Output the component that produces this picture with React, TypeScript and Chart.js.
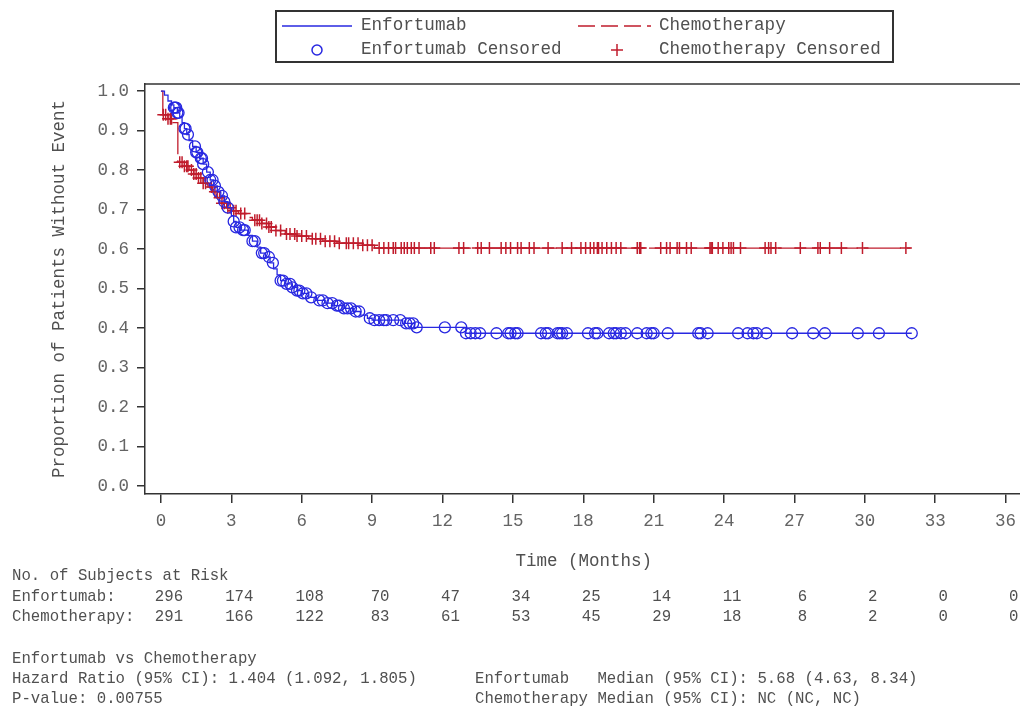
import React, { useEffect, useRef, useState } from "react";
import { Chart, registerables } from "chart.js";

Chart.register(...registerables);

// ---------- data ----------
const xTicks = [0, 3, 6, 9, 12, 15, 18, 21, 24, 27, 30, 33, 36];
const yTicks = [0, 0.1, 0.2, 0.3, 0.4, 0.5, 0.6, 0.7, 0.8, 0.9, 1.0];

const enfRisk = [296, 174, 108, 70, 47, 34, 25, 14, 11, 6, 2, 0, 0];
const chemoRisk = [291, 166, 122, 83, 61, 53, 45, 29, 18, 8, 2, 0, 0];

// Kaplan-Meier step points (time in months, survival after the event)
const enfStepTimes = [0, 0.15, 0.3, 0.45, 0.55, 0.7, 0.8, 0.9, 1.0, 1.1, 1.2, 1.35, 1.5, 1.65, 1.8, 1.95, 2.1, 2.25, 2.4, 2.55, 2.7, 2.85, 3.0, 3.1, 3.2, 3.4, 3.7, 3.9, 4.1, 4.25, 4.45, 4.65, 4.8, 4.95, 5.1, 5.3, 5.6, 5.8, 6.0, 6.3, 6.6, 7.0, 7.4, 7.8, 8.2, 8.5, 8.8, 9.0, 10.3, 10.8, 13.0, 32.0];
const enfStepSurv = [1.0, 0.99, 0.975, 0.965, 0.958, 0.945, 0.935, 0.92, 0.905, 0.89, 0.875, 0.86, 0.845, 0.83, 0.815, 0.795, 0.775, 0.76, 0.745, 0.735, 0.72, 0.705, 0.685, 0.67, 0.655, 0.648, 0.635, 0.62, 0.605, 0.59, 0.58, 0.565, 0.55, 0.535, 0.52, 0.512, 0.503, 0.495, 0.488, 0.478, 0.47, 0.463, 0.457, 0.45, 0.442, 0.433, 0.425, 0.42, 0.412, 0.402, 0.387, 0.387];

const chemoStepTimes = [0, 0.08, 0.3, 0.5, 0.72, 1.0, 1.2, 1.4, 1.6, 1.8, 2.0, 2.2, 2.4, 2.6, 2.8, 3.0, 3.3, 3.7, 3.9, 4.3, 4.6, 4.9, 5.3, 5.8, 6.3, 6.9, 7.5, 8.6, 9.1, 31.95];
const chemoStepSurv = [1.0, 0.94, 0.93, 0.92, 0.82, 0.81, 0.8, 0.79, 0.78, 0.767, 0.757, 0.745, 0.73, 0.716, 0.705, 0.697, 0.69, 0.68, 0.673, 0.665, 0.656, 0.647, 0.638, 0.633, 0.626, 0.62, 0.615, 0.61, 0.6025, 0.6025];

// censoring times (months)
const enfCensorTimes = [0.55, 0.6, 0.65, 0.7, 0.75, 1.0, 1.05, 1.15, 1.45, 1.5, 1.55, 1.7, 1.75, 1.8, 2.0, 2.1, 2.2, 2.3, 2.45, 2.6, 2.7, 2.85, 3.1, 3.2, 3.35, 3.5, 3.57, 3.9, 4.0, 4.3, 4.4, 4.6, 4.77, 5.1, 5.2, 5.35, 5.5, 5.6, 5.8, 5.9, 6.05, 6.2, 6.4, 6.75, 6.9, 7.1, 7.3, 7.5, 7.6, 7.8, 7.95, 8.1, 8.3, 8.45, 8.9, 9.1, 9.3, 9.5, 9.6, 9.9, 10.2, 10.45, 10.6, 10.75, 10.9, 12.1, 12.8, 13.0, 13.2, 13.4, 13.6, 14.3, 14.8, 14.9, 15.1, 15.2, 16.2, 16.4, 16.5, 16.9, 17.0, 17.1, 17.3, 18.2, 18.5, 18.6, 19.1, 19.3, 19.4, 19.6, 19.8, 20.3, 20.7, 20.9, 21.0, 21.6, 22.9, 23.0, 23.3, 24.6, 25.0, 25.25, 25.4, 25.8, 26.9, 27.8, 28.3, 29.7, 30.6, 32.0];
const chemoCensorTimes = [0.1, 0.2, 0.3, 0.4, 0.45, 0.8, 0.9, 1.0, 1.1, 1.15, 1.3, 1.4, 1.5, 1.6, 1.7, 1.8, 1.9, 2.15, 2.3, 2.5, 2.6, 2.7, 2.85, 2.95, 3.1, 3.2, 3.4, 3.57, 4.0, 4.1, 4.2, 4.3, 4.5, 4.6, 4.7, 4.9, 5.1, 5.35, 5.5, 5.7, 5.8, 6.0, 6.2, 6.45, 6.6, 6.8, 7.0, 7.2, 7.4, 7.6, 7.9, 8.0, 8.2, 8.4, 8.6, 8.8, 9.0, 9.3, 9.5, 9.7, 9.9, 10.0, 10.24, 10.37, 10.5, 10.67, 10.8, 11.0, 11.5, 11.65, 12.7, 12.9, 13.5, 13.65, 14.0, 14.5, 14.7, 14.9, 15.2, 15.35, 15.7, 15.9, 16.5, 17.1, 17.5, 17.9, 18.1, 18.3, 18.45, 18.6, 18.65, 18.8, 19.0, 19.2, 19.4, 19.6, 20.3, 20.4, 20.45, 21.3, 21.55, 21.7, 22.0, 22.1, 22.4, 22.6, 23.4, 23.45, 23.5, 23.75, 23.95, 24.2, 24.3, 24.4, 24.7, 25.75, 25.9, 26.0, 26.2, 27.25, 28.0, 28.1, 28.5, 29.0, 29.9, 31.75];

// ---------- styling ----------
const MONO = '"Liberation Mono", "DejaVu Sans Mono", monospace';
const BLUE = "rgb(40,40,225)";
const RED = "rgb(192,28,44)";
const AXIS = "#333";
const TXT = "#505050";
const TICK_TXT = "#646464";

function survAt(times: number[], surv: number[], t: number) {
  let s = surv[0];
  for (let i = 0; i < times.length; i++) {
    if (times[i] <= t) s = surv[i];
    else break;
  }
  return s;
}

const framePlugin = {
  id: "frame",
  afterDraw(chart: any) {
    const { ctx, chartArea } = chart;
    ctx.save();
    ctx.strokeStyle = AXIS;
    ctx.lineWidth = 1.5;
    ctx.beginPath();
    ctx.moveTo(chartArea.left, chartArea.top);
    ctx.lineTo(chartArea.right, chartArea.top);
    ctx.lineTo(chartArea.right, chartArea.bottom);
    ctx.stroke();
    ctx.restore();
  },
};

function T(props: { x: number; y: number; size: number; color?: string; center?: boolean; children: any }) {
  const { x, y, size, color, center, children } = props;
  return (
    <div
      style={{
        position: "absolute",
        left: x,
        top: y - size * 0.6,
        fontSize: size,
        lineHeight: `${size * 1.2}px`,
        fontFamily: MONO,
        color: color || TXT,
        whiteSpace: "pre",
        transform: center ? "translateX(-50%)" : undefined,
      }}
    >
      {children}
    </div>
  );
}

export default function App() {
  const ref = useRef<HTMLCanvasElement | null>(null);
  const [tickPx, setTickPx] = useState<number[]>([]);

  useEffect(() => {
    if (!ref.current) return;
    const axisFont = { family: MONO, size: 17.5 };
    const chart = new Chart(ref.current, {
      type: "line",
      data: {
        datasets: [
          {
            label: "Enfortumab",
            data: enfStepTimes.map((t, i) => ({ x: t, y: enfStepSurv[i] })),
            stepped: "before",
            borderColor: BLUE,
            borderWidth: 1.3,
            pointRadius: 0,
            fill: false,
          },
          {
            label: "Chemotherapy",
            data: chemoStepTimes.map((t, i) => ({ x: t, y: chemoStepSurv[i] })),
            stepped: "before",
            borderColor: RED,
            borderWidth: 1.3,
            borderDash: [37, 6],
            pointRadius: 0,
            fill: false,
          },
          {
            label: "Enfortumab Censored",
            data: enfCensorTimes.map((t) => ({ x: t, y: survAt(enfStepTimes, enfStepSurv, t) })),
            showLine: false,
            pointStyle: "circle",
            pointRadius: 5.5,
            pointBorderWidth: 1.3,
            pointBorderColor: BLUE,
            pointBackgroundColor: "rgba(0,0,0,0)",
            borderColor: BLUE,
          },
          {
            label: "Chemotherapy Censored",
            data: chemoCensorTimes.map((t) => ({ x: t, y: survAt(chemoStepTimes, chemoStepSurv, t) })),
            showLine: false,
            pointStyle: "cross",
            pointRadius: 6,
            pointBorderWidth: 1.5,
            pointBorderColor: RED,
            borderColor: RED,
          },
        ],
      } as any,
      options: {
        animation: false,
        responsive: false,
        devicePixelRatio: 1,
        layout: { padding: { left: 0, right: 5, top: 84, bottom: 134 } },
        plugins: { legend: { display: false }, tooltip: { enabled: false } },
        scales: {
          x: {
            type: "linear",
            min: -0.68,
            max: 36.72,
            afterBuildTicks: (s: any) => {
              s.ticks = xTicks.map((v) => ({ value: v }));
            },
            afterFit: (s: any) => {
              s.height = 80;
            },
            ticks: {
              font: axisFont,
              color: TICK_TXT,
              padding: 8,
              maxRotation: 0,
              autoSkip: false,
              callback: (v: any) => String(v),
            },
            grid: { drawOnChartArea: false, drawTicks: true, tickLength: 9, color: AXIS, lineWidth: 1.5 },
            border: { display: true, color: AXIS, width: 1.5 },
            title: {
              display: true,
              text: "Time (Months)",
              font: axisFont,
              color: TXT,
              padding: { top: 0, bottom: 2.5 },
            },
          },
          y: {
            type: "linear",
            min: -0.02,
            max: 1.018,
            afterBuildTicks: (s: any) => {
              s.ticks = yTicks.map((v) => ({ value: v }));
            },
            afterFit: (s: any) => {
              s.width = 145;
            },
            ticks: {
              font: axisFont,
              color: TICK_TXT,
              padding: 8,
              autoSkip: false,
              callback: (v: any) => Number(v).toFixed(1),
            },
            grid: { drawOnChartArea: false, drawTicks: true, tickLength: 8, color: AXIS, lineWidth: 1.5 },
            border: { display: true, color: AXIS, width: 1.5 },
            title: {
              display: true,
              text: "Proportion of Patients Without Event",
              font: axisFont,
              color: TXT,
              padding: { top: 49, bottom: 0 },
            },
          },
        },
      } as any,
      plugins: [framePlugin],
    });
    const xs = chart.scales.x;
    setTickPx(xTicks.map((t) => xs.getPixelForValue(t)));
    return () => chart.destroy();
  }, []);

  const tableSize = 15.7;
  const legSize = 17.6;

  return (
    <div
      style={{
        position: "fixed",
        left: 0,
        top: 0,
        width: 1020,
        height: 708,
        overflow: "hidden",
        background: "#fff",
      }}
    >
      <canvas
        ref={ref}
        width={1030}
        height={708}
        style={{ position: "absolute", left: 0, top: 0, width: 1030, height: 708 }}
      />

      {/* legend */}
      <div
        style={{
          position: "absolute",
          left: 275,
          top: 10,
          width: 619,
          height: 53,
          border: "2px solid #333",
          boxSizing: "border-box",
        }}
      >
        <svg width={619} height={53} style={{ position: "absolute", left: -2, top: -2 }}>
          <line x1={7} y1={16} x2={77} y2={16} stroke={BLUE} strokeWidth={1.3} />
          <line x1={303} y1={16} x2={376} y2={16} stroke={RED} strokeWidth={1.3} strokeDasharray="17 6" />
          <circle cx={42} cy={40} r={5} fill="none" stroke={BLUE} strokeWidth={1.5} />
          <line x1={336} y1={40} x2={348} y2={40} stroke={RED} strokeWidth={1.5} />
          <line x1={342} y1={34} x2={342} y2={46} stroke={RED} strokeWidth={1.5} />
        </svg>
        <T x={84} y={14} size={legSize}>Enfortumab</T>
        <T x={382} y={14} size={legSize}>Chemotherapy</T>
        <T x={84} y={38} size={legSize}>Enfortumab Censored</T>
        <T x={382} y={38} size={legSize}>Chemotherapy Censored</T>
      </div>

      {/* at-risk table */}
      <T x={12} y={576} size={tableSize}>No. of Subjects at Risk</T>
      <T x={12} y={597} size={tableSize}>Enfortumab:</T>
      <T x={12} y={617} size={tableSize}>Chemotherapy:</T>
      {tickPx.map((px, i) => (
        <T key={"e" + i} x={px + 8} y={597} size={tableSize} center>
          {String(enfRisk[i])}
        </T>
      ))}
      {tickPx.map((px, i) => (
        <T key={"c" + i} x={px + 8} y={617} size={tableSize} center>
          {String(chemoRisk[i])}
        </T>
      ))}

      {/* statistics */}
      <T x={12} y={659} size={tableSize}>Enfortumab vs Chemotherapy</T>
      <T x={12} y={679} size={tableSize}>Hazard Ratio (95% CI): 1.404 (1.092, 1.805)</T>
      <T x={12} y={699} size={tableSize}>P-value: 0.00755</T>
      <T x={475} y={679} size={tableSize}>Enfortumab   Median (95% CI): 5.68 (4.63, 8.34)</T>
      <T x={475} y={699} size={tableSize}>Chemotherapy Median (95% CI): NC (NC, NC)</T>
    </div>
  );
}
